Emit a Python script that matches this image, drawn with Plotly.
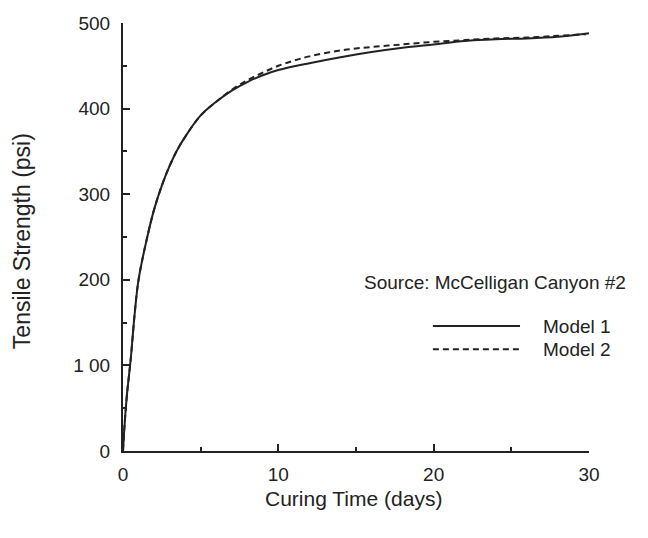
import plotly.graph_objects as go

# Curing time (days)
time_m1 = [0, 0.1, 0.25, 0.5, 0.75, 1, 1.5, 2, 2.5, 3, 3.5, 4, 5, 6, 7, 8, 9, 10,
           12, 14, 16, 18, 20, 22, 24, 26, 28, 30]
model1 = [0, 30, 65, 108, 160, 200, 245, 282, 310, 333, 352, 367, 392, 408, 421, 431, 439, 445,
          453, 460, 466, 471, 475, 479, 481, 482, 484, 488]

time_m2 = [0, 0.1, 0.25, 0.5, 0.75, 1, 1.5, 2, 2.5, 3, 3.5, 4, 5, 6, 7, 8, 9, 10,
           11, 12, 14, 16, 18, 20, 22, 24, 26, 28, 29.8]
model2 = [0, 30, 65, 108, 160, 200, 245, 282, 310, 333, 352, 367, 392, 408, 422, 433, 442, 450,
          456, 461, 468, 472, 475, 478, 480, 482, 483, 485, 487]

x_ticks = [0, 10, 20, 30]
y_ticks = [0, 100, 200, 300, 400, 500]
y_tick_text = ["0", "1 00", "200", "300", "400", "500"]

FONT = "Liberation Sans, Arial, sans-serif"
INK = "#222222"

fig = go.Figure()
fig.add_trace(go.Scatter(x=time_m1, y=model1, mode="lines", name="Model 1",
                         line=dict(color=INK, width=2), line_shape="spline"))
fig.add_trace(go.Scatter(x=time_m2, y=model2, mode="lines", name="Model 2",
                         line=dict(color=INK, width=2, dash="6px,4px"), line_shape="spline"))

axis_common = dict(
    showgrid=False, zeroline=False, showline=True, linecolor=INK, linewidth=2,
    ticks="inside", ticklen=7, tickwidth=2, tickcolor=INK,
    tickfont=dict(family=FONT, size=19, color=INK),
)

fig.update_layout(
    width=648, height=538,
    margin=dict(l=123, r=59, t=23, b=87),
    paper_bgcolor="white", plot_bgcolor="white",
    showlegend=False,
    xaxis=dict(range=[0, 30], tickvals=x_ticks, ticklabelstandoff=5,
               minor=dict(dtick=5, tick0=0, ticks="inside", ticklen=4, tickwidth=2,
                          tickcolor=INK, showgrid=False),
               **axis_common),
    yaxis=dict(range=[0, 500], tickvals=y_ticks, ticktext=y_tick_text, ticklabelstandoff=7,
               minor=dict(dtick=50, tick0=0, ticks="inside", ticklen=4, tickwidth=2,
                          tickcolor=INK, showgrid=False),
               **axis_common),
)

# Axis titles
fig.add_annotation(text="Curing Time (days)", xref="paper", yref="paper",
                   x=0.494, y=-0.11, xanchor="center", yanchor="middle", showarrow=False,
                   font=dict(family=FONT, size=21, color=INK))
fig.add_annotation(text="Tensile Strength (psi)", xref="paper", yref="paper",
                   x=-0.217, y=0.49, xanchor="center", yanchor="middle", showarrow=False,
                   textangle=-90, font=dict(family=FONT, size=23, color=INK))

# Legend block
fig.add_annotation(text="Source: McCelligan Canyon #2", xref="paper", yref="paper",
                   x=0.798, y=0.393, xanchor="center", yanchor="middle", showarrow=False,
                   font=dict(family=FONT, size=19, color=INK))
fig.add_shape(type="line", xref="paper", yref="paper", x0=0.665, x1=0.852, y0=0.292, y1=0.292,
              line=dict(color=INK, width=2))
fig.add_shape(type="line", xref="paper", yref="paper", x0=0.665, x1=0.852, y0=0.238, y1=0.238,
              line=dict(color=INK, width=2, dash="6px,4px"))
fig.add_annotation(text="Model 1", xref="paper", yref="paper", x=0.897, y=0.292,
                   xanchor="left", yanchor="middle", showarrow=False,
                   font=dict(family=FONT, size=19, color=INK))
fig.add_annotation(text="Model 2", xref="paper", yref="paper", x=0.897, y=0.238,
                   xanchor="left", yanchor="middle", showarrow=False,
                   font=dict(family=FONT, size=19, color=INK))

fig.write_html("out.html")
